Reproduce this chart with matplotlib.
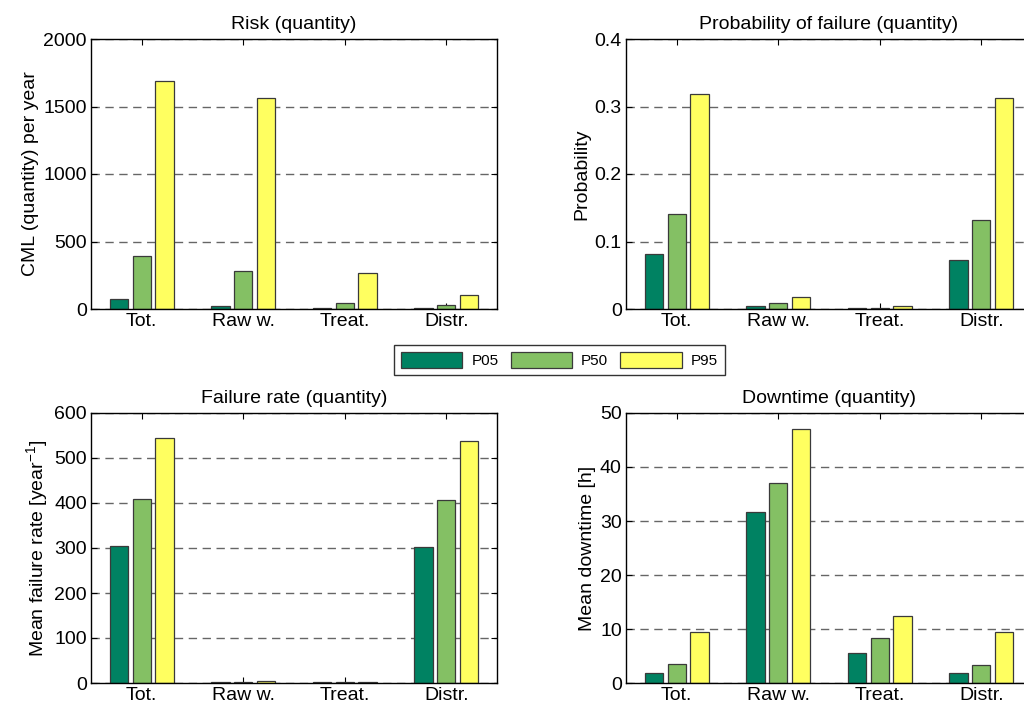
import numpy as np
import matplotlib
matplotlib.use("Agg")
import matplotlib.pyplot as plt

plt.rcParams["font.family"] = ["Liberation Sans", "DejaVu Sans"]
plt.rcParams["mathtext.fontset"] = "custom"
plt.rcParams["mathtext.rm"] = "Liberation Sans"
plt.rcParams["mathtext.it"] = "Liberation Sans"

categories = ["Tot.", "Raw w.", "Treat.", "Distr."]
series = ["P05", "P50", "P95"]
colors = ["#008262", "#84c064", "#ffff60"]

risk = [[77, 25, 10, 8], [393, 282, 47, 27], [1686, 1560, 269, 101]]
prob = [[0.081, 0.005, 0.0015, 0.072], [0.141, 0.0094, 0.002, 0.1325],
        [0.319, 0.018, 0.005, 0.312]]
rate = [[305, 3, 3, 302], [409, 3, 3, 406], [544, 5, 2.5, 538]]
downtime = [[1.9, 31.6, 5.6, 1.9], [3.6, 37.0, 8.4, 3.3], [9.4, 47.0, 12.5, 9.4]]

panels = [
    (risk, "Risk (quantity)", "CML (quantity) per year", (0, 2000), [0, 500, 1000, 1500, 2000], None),
    (prob, "Probability of failure (quantity)", "Probability", (0, 0.4), [0, 0.1, 0.2, 0.3, 0.4],
     ["0", "0.1", "0.2", "0.3", "0.4"]),
    (rate, "Failure rate (quantity)", "Mean failure rate [year$^{-1}$]", (0, 600),
     [0, 100, 200, 300, 400, 500, 600], None),
    (downtime, "Downtime (quantity)", "Mean downtime [h]", (0, 50), [0, 10, 20, 30, 40, 50], None),
]

fig = plt.figure(figsize=(10.24, 7.11), dpi=100)
w, h = 406 / 1024, 270 / 711
rects = [(91 / 1024, 1 - 309 / 711), (626 / 1024, 1 - 309 / 711),
         (91 / 1024, 1 - 683 / 711), (626 / 1024, 1 - 683 / 711)]

x = np.arange(1, len(categories) + 1)
offs = [-0.225, 0, 0.225]
bw = 0.18
fs = 14
handles = []
for (vals, title, ylab, ylim, yt, ytl), (l, b) in zip(panels, rects):
    ax = fig.add_axes([l, b, w, h])
    ax.set_axisbelow(True)
    for i, s in enumerate(series):
        bars = ax.bar(x + offs[i], vals[i], bw, color=colors[i], edgecolor="#3a3a3a",
                      linewidth=0.9, label=s)
        if len(handles) < 3:
            handles.append(bars)
    ax.set_xlim(0.5, 4.5)
    ax.set_ylim(*ylim)
    ax.set_yticks(yt)
    if ytl:
        ax.set_yticklabels(ytl)
    ax.set_xticks(x)
    ax.set_xticklabels(categories)
    ax.yaxis.grid(True, linestyle=(0, (6, 4)), color="#666666", linewidth=1.0)
    ax.tick_params(direction="in", top=True, right=True, labelsize=fs, length=4, pad=3)
    ax.set_title(title, fontsize=fs, pad=7)
    ax.set_ylabel(ylab, fontsize=fs, labelpad=3)
    for sp in ax.spines.values():
        sp.set_linewidth(1.0)

fig.legend(handles, series, loc="center", bbox_to_anchor=(559.5 / 1024, 1 - 360 / 711),
           ncol=3, fontsize=11, frameon=True, fancybox=False, edgecolor="black",
           handlelength=4.0, handleheight=1.2, columnspacing=0.8, handletextpad=0.6,
           borderpad=0.45)
fig.legends[0].get_frame().set_linewidth(1.0)

fig.savefig("out.png", dpi=100)
